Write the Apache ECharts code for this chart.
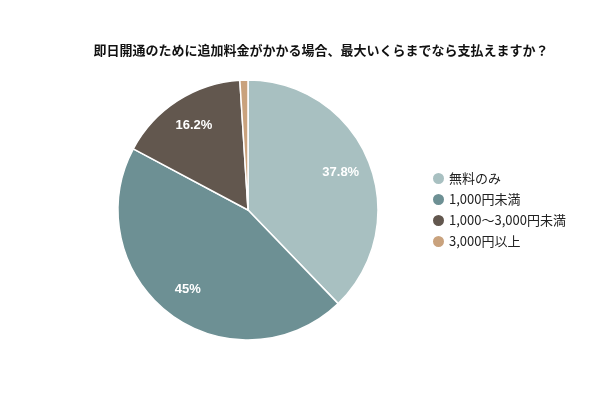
<!DOCTYPE html>
<html lang="ja">
<head>
  <meta charset="UTF-8">
  <title>即日開通 追加料金</title>
  <style>
    html, body { width: 100%; height: 100%; margin: 0; background: #fff; }
  </style>
</head>
<body>
  <div id="chart" style="width:600px;height:400px"></div>
  <script src="https://cdn.jsdelivr.net/npm/echarts@6/dist/echarts.min.js"></script>
  <script>
    var titleText = '即日開通のために追加料金がかかる場合、最大いくらまでなら支払えますか？';
    var categories = ['無料のみ', '1,000円未満', '1,000～3,000円未満', '3,000円以上'];
    var values = [37.8, 45, 16.2, 1.0];
    var colors = ['#a8c0c1', '#6d9094', '#62574e', '#c9a27d'];

    var cx = 248, cy = 210, labelR = 100;
    var total = values.reduce(function (a, b) { return a + b; }, 0);

    var myChart = echarts.init(document.getElementById('chart'));
    var option = {
      title: {
        text: titleText,
        left: 316,
        top: 39,
        textAlign: 'center',
        textStyle: { fontSize: 13, fontWeight: 'bold', color: '#111', fontFamily: 'Noto Sans CJK JP' }
      },
      color: colors,
      legend: {
        orient: 'vertical',
        left: 426,
        top: 166,
        icon: 'circle',
        itemWidth: 13,
        itemHeight: 13,
        itemGap: 6,
        textStyle: { fontSize: 13, color: '#222', fontFamily: 'Noto Sans CJK JP', padding: [0, 0, 0, -1] },
        data: categories
      },
      series: [{
        type: 'pie',
        center: [cx, cy],
        radius: 130,
        startAngle: 90,
        clockwise: true,
        animation: false,
        itemStyle: { borderColor: '#fff', borderWidth: 1.5 },
        label: {
          show: true,
          position: 'inside',
          color: '#fff',
          fontWeight: 'bold',
          fontSize: 13,
          fontFamily: 'Arial',
          formatter: function (p) { return p.value >= 5 ? p.value + '%' : ''; }
        },
        labelLayout: function (params) {
          var i = params.dataIndex;
          var before = 0;
          for (var k = 0; k < i; k++) before += values[k];
          var mid = (before + values[i] / 2) / total * Math.PI * 2;
          return {
            x: cx + labelR * Math.sin(mid),
            y: cy - labelR * Math.cos(mid),
            align: 'center',
            verticalAlign: 'middle'
          };
        },
        data: categories.map(function (name, i) {
          return { name: name, value: values[i] };
        })
      }]
    };
    myChart.setOption(option);
  </script>
</body>
</html>
